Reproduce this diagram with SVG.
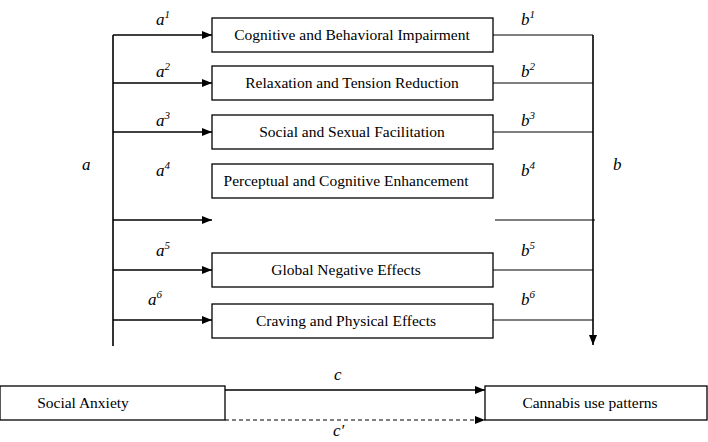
<svg xmlns="http://www.w3.org/2000/svg" width="708" height="442" viewBox="0 0 708 442">
<style>
.box{fill:#fff;stroke:#000;stroke-width:1.3}
.t{font-family:"Liberation Serif",serif;font-size:15.5px;text-anchor:middle}
.l{font-family:"Liberation Serif",serif;font-size:17px;font-style:italic}
.s{font-size:11px}
.c{stroke:#000;stroke-width:1.6;fill:none}
.th{stroke:#000;stroke-width:1.1;fill:none}
</style>
<defs><marker id="ah" markerWidth="10" markerHeight="8" refX="10" refY="4" orient="auto" markerUnits="userSpaceOnUse"><path d="M0,0L10,4L0,8z" fill="#000"/></marker></defs>
<rect width="708" height="442" fill="#fff"/>
<g id="connectors">
<path class="c" d="M113,35V346"/>
<path class="c" d="M113,35H212" marker-end="url(#ah)"/>
<path class="c" d="M113,83H212" marker-end="url(#ah)"/>
<path class="c" d="M113,132H212" marker-end="url(#ah)"/>
<path class="c" d="M113,220H212" marker-end="url(#ah)"/>
<path class="c" d="M113,270H212" marker-end="url(#ah)"/>
<path class="c" d="M113,320H212" marker-end="url(#ah)"/>
<path class="th" d="M493,35H593M493,83H593M493,132H593M495,220H595M493,270H593M493,320H593"/>
<path class="c" d="M593,35V345" marker-end="url(#ah)"/>
<path class="c" d="M225,390H485" marker-end="url(#ah)"/>
<path class="th" d="M225,420H485" stroke-dasharray="4,3" marker-end="url(#ah)"/>
</g>
<g id="n1"><rect class="box" x="212" y="18" width="281" height="34"/><text class="t" x="352" y="40">Cognitive and Behavioral Impairment</text></g>
<g id="n2"><rect class="box" x="212" y="66" width="281" height="34"/><text class="t" x="352" y="88">Relaxation and Tension Reduction</text></g>
<g id="n3"><rect class="box" x="212" y="115" width="281" height="34"/><text class="t" x="352" y="137">Social and Sexual Facilitation</text></g>
<g id="n4"><rect class="box" x="212" y="164" width="281" height="34"/><text class="t" x="346" y="186">Perceptual and Cognitive Enhancement</text></g>
<g id="n5"><rect class="box" x="212" y="253" width="281" height="34"/><text class="t" x="346" y="275">Global Negative Effects</text></g>
<g id="n6"><rect class="box" x="212" y="304" width="281" height="34"/><text class="t" x="346" y="326">Craving and Physical Effects</text></g>
<g id="sa"><rect class="box" x="0" y="386" width="225" height="34"/><text class="t" x="83" y="408">Social Anxiety</text></g>
<g id="cu"><rect class="box" x="485" y="386" width="222" height="34"/><text class="t" x="590" y="408">Cannabis use patterns</text></g>
<g id="labels">
<text class="l" x="82" y="170">a</text>
<text class="l" x="613" y="170">b</text>
<text class="l" x="156" y="25">a<tspan class="s" dy="-7">1</tspan></text>
<text class="l" x="156" y="77">a<tspan class="s" dy="-7">2</tspan></text>
<text class="l" x="156" y="126">a<tspan class="s" dy="-7">3</tspan></text>
<text class="l" x="156" y="176">a<tspan class="s" dy="-7">4</tspan></text>
<text class="l" x="156" y="256">a<tspan class="s" dy="-7">5</tspan></text>
<text class="l" x="148" y="305">a<tspan class="s" dy="-7">6</tspan></text>
<text class="l" x="521" y="25">b<tspan class="s" dy="-7">1</tspan></text>
<text class="l" x="521" y="77">b<tspan class="s" dy="-7">2</tspan></text>
<text class="l" x="521" y="126">b<tspan class="s" dy="-7">3</tspan></text>
<text class="l" x="521" y="176">b<tspan class="s" dy="-7">4</tspan></text>
<text class="l" x="521" y="256">b<tspan class="s" dy="-7">5</tspan></text>
<text class="l" x="521" y="305">b<tspan class="s" dy="-7">6</tspan></text>
<text class="l" x="334" y="380">c</text>
<text class="l" x="333" y="436">c′</text>
</g>
</svg>
